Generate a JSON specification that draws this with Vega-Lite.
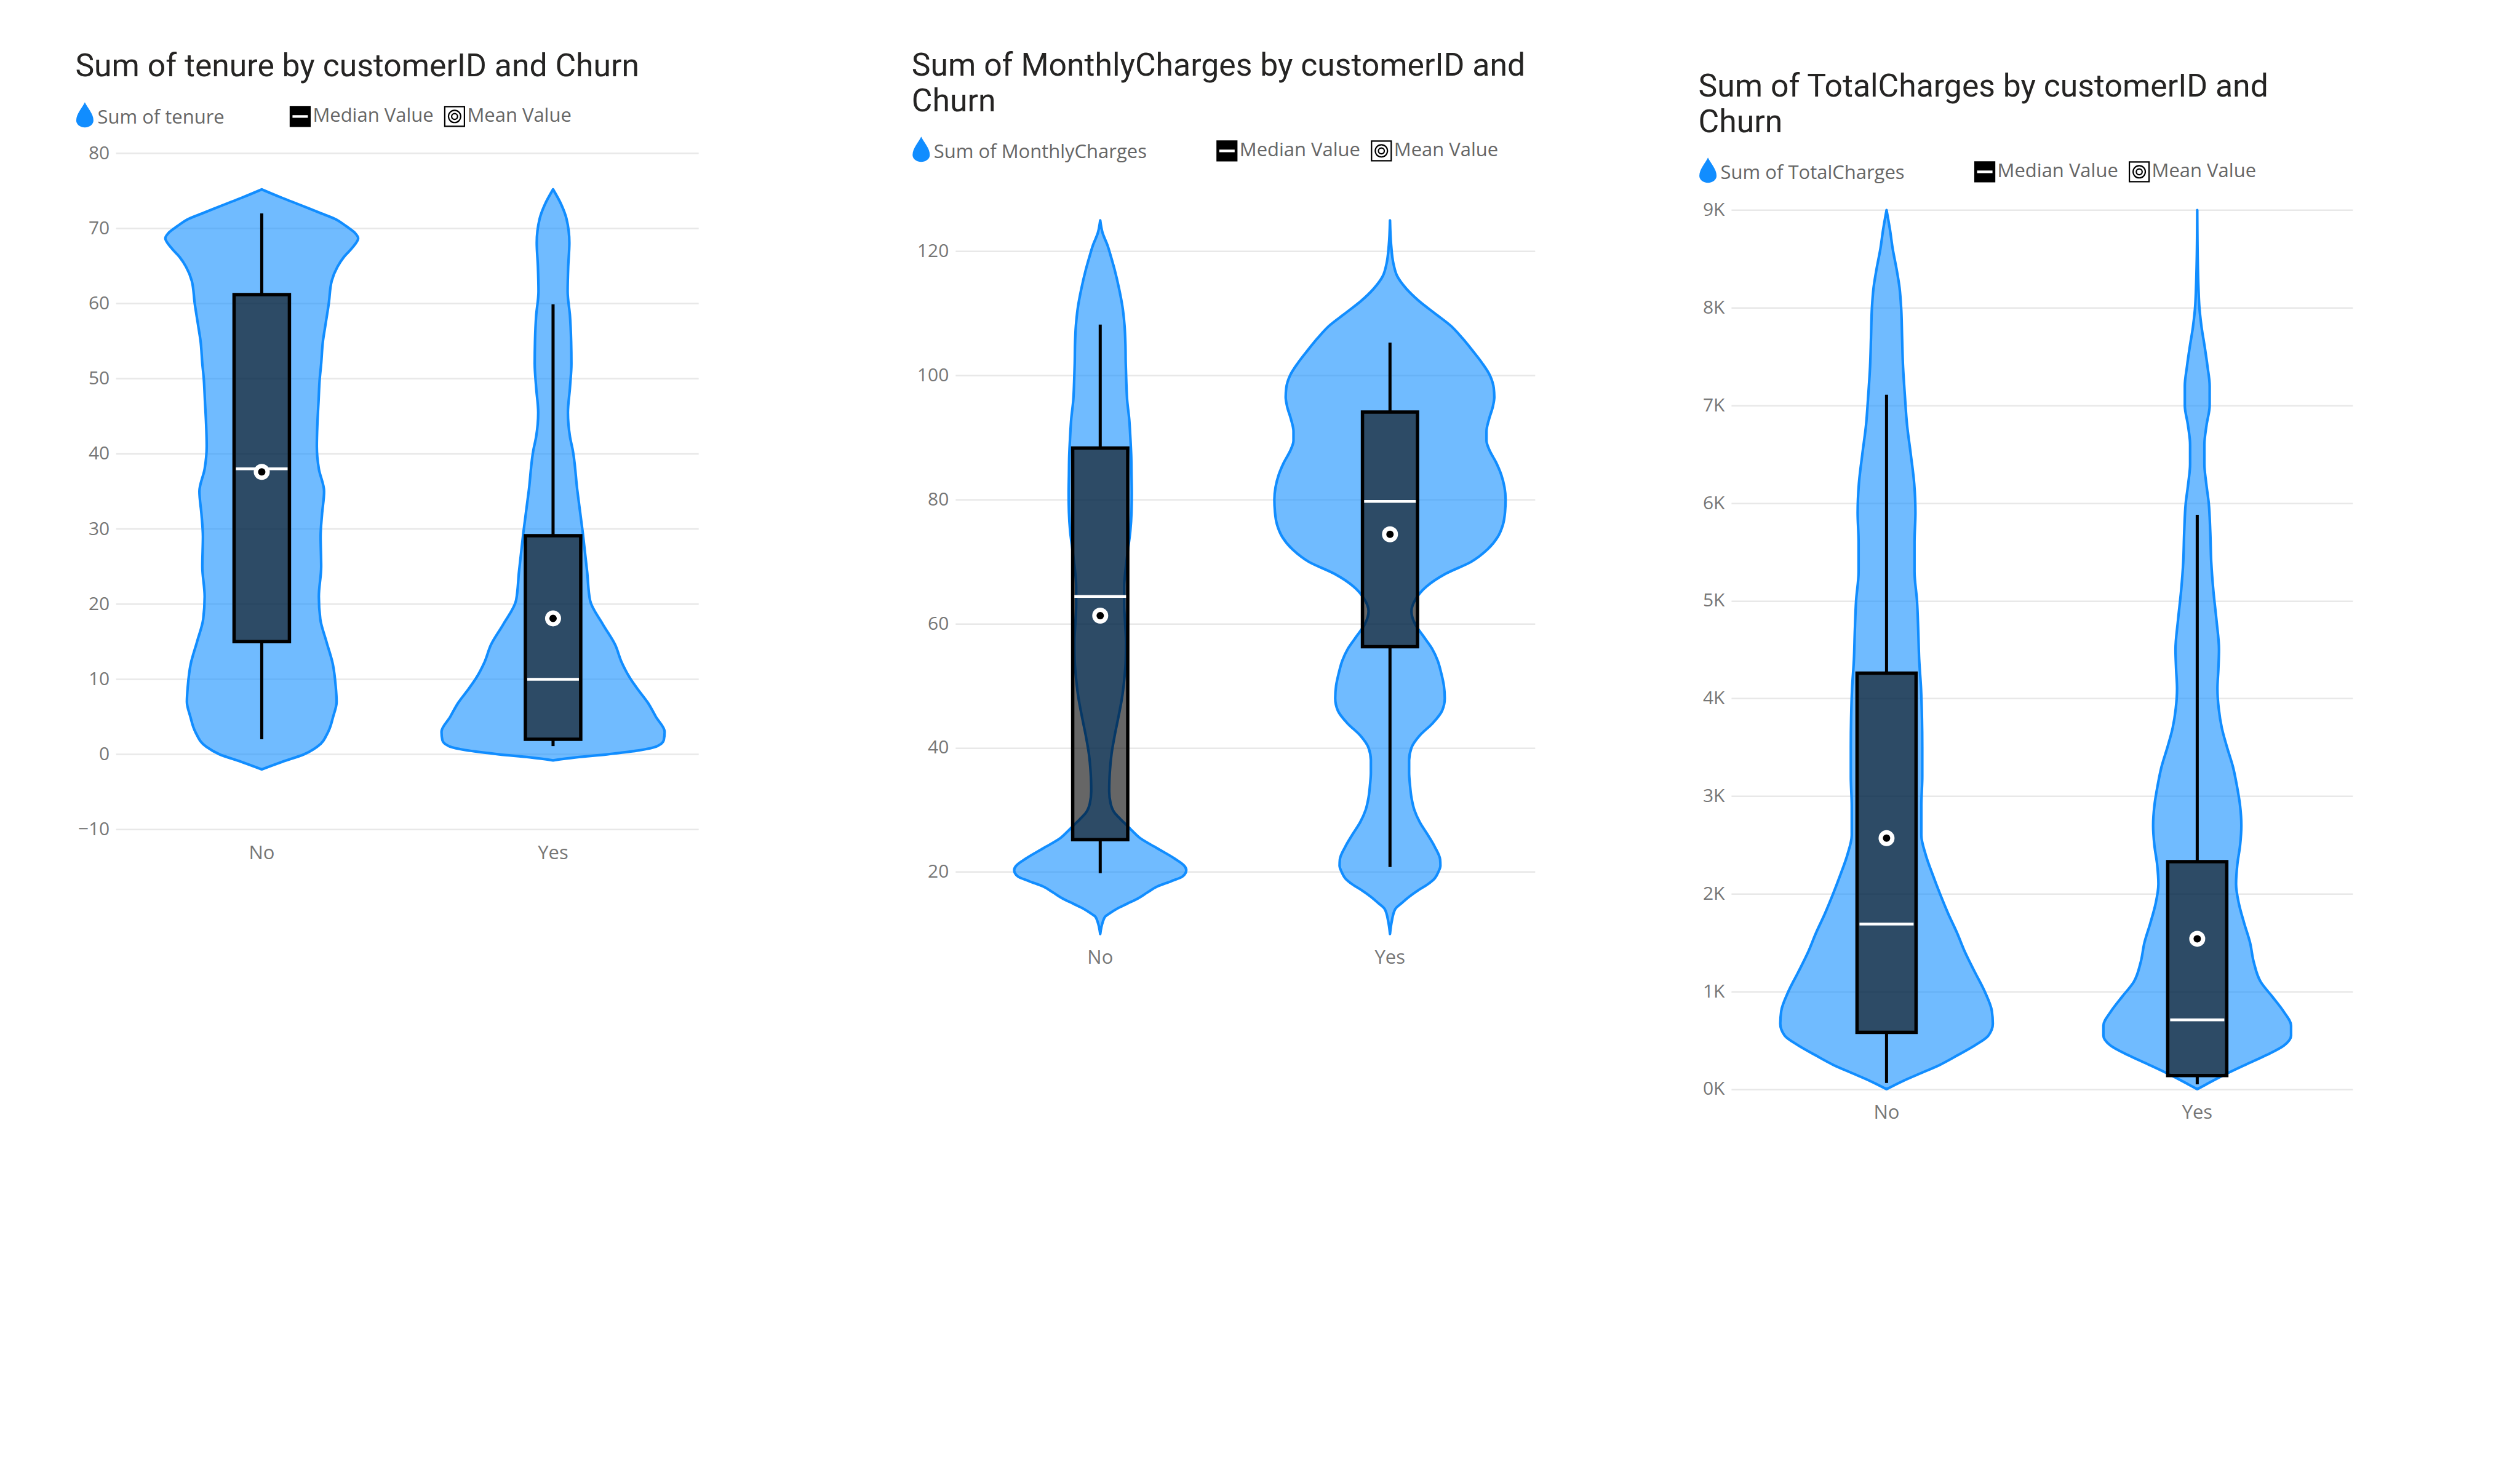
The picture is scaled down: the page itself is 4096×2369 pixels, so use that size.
{
  "$schema": "https://vega.github.io/schema/vega-lite/v6.json",
  "autosize": {"type": "pad"},
  "padding": {"left": 121.7, "top": 82.3, "right": 10, "bottom": 10},
  "background": "white",
  "spacing": 319.1,
  "bounds": "flush",
  "resolve": {"scale": {"color": "independent"}, "legend": {"color": "independent"}},
  "hconcat": [
    {
      "title": {"text": "Sum of tenure by customerID and Churn", "offset": 39.1},
      "width": 1044.6,
      "height": 1099.4,
      "resolve": {"scale": {"x": "independent"}},
      "layer": [
        {
          "data": {"values": [{"g": -10}, {"g": 0}, {"g": 10}, {"g": 20}, {"g": 30}, {"g": 40}, {"g": 50}, {"g": 60}, {"g": 70}, {"g": 80}]},
          "mark": {"type": "rule", "color": "#e8e8e8", "strokeWidth": 2.5},
          "encoding": {
            "y": {"field": "g", "type": "quantitative", "title": null},
            "x": {"datum": 0, "type": "quantitative", "scale": {"domain": [0, 2], "range": [0, 947], "nice": false, "zero": false}, "axis": null},
            "x2": {"datum": 2}
          }
        },
        {
          "data": {"values": [
            {"churn": "No", "v": 75.2, "w": 0}, {"churn": "No", "v": 74.1, "w": 0.068}, {"churn": "No", "v": 73.1, "w": 0.134}, {"churn": "No", "v": 72.1, "w": 0.198}, {"churn": "No", "v": 71.3, "w": 0.25}, {"churn": "No", "v": 70.3, "w": 0.29}, {"churn": "No", "v": 69.4, "w": 0.32}, {"churn": "No", "v": 68.7, "w": 0.331}, {"churn": "No", "v": 67.4, "w": 0.31}, {"churn": "No", "v": 66.2, "w": 0.282}, {"churn": "No", "v": 64.9, "w": 0.26}, {"churn": "No", "v": 63, "w": 0.24}, {"churn": "No", "v": 60, "w": 0.23}, {"churn": "No", "v": 57, "w": 0.218}, {"churn": "No", "v": 55, "w": 0.21}, {"churn": "No", "v": 52, "w": 0.204}, {"churn": "No", "v": 50, "w": 0.199}, {"churn": "No", "v": 47, "w": 0.195}, {"churn": "No", "v": 44, "w": 0.191}, {"churn": "No", "v": 41, "w": 0.189}, {"churn": "No", "v": 38, "w": 0.196}, {"churn": "No", "v": 35, "w": 0.214}, {"churn": "No", "v": 32, "w": 0.207}, {"churn": "No", "v": 29, "w": 0.202}, {"churn": "No", "v": 25, "w": 0.204}, {"churn": "No", "v": 21, "w": 0.196}, {"churn": "No", "v": 18, "w": 0.201}, {"churn": "No", "v": 15, "w": 0.222}, {"churn": "No", "v": 12, "w": 0.244}, {"churn": "No", "v": 9, "w": 0.254}, {"churn": "No", "v": 7, "w": 0.257}, {"churn": "No", "v": 5, "w": 0.245}, {"churn": "No", "v": 3, "w": 0.228}, {"churn": "No", "v": 1, "w": 0.19}, {"churn": "No", "v": 0, "w": 0.145}, {"churn": "No", "v": -1, "w": 0.07}, {"churn": "No", "v": -2, "w": 0},
            {"churn": "Yes", "v": 75.2, "w": 0}, {"churn": "Yes", "v": 73.2, "w": 0.028}, {"churn": "Yes", "v": 71.3, "w": 0.046}, {"churn": "Yes", "v": 68.1, "w": 0.056}, {"churn": "Yes", "v": 64.9, "w": 0.052}, {"churn": "Yes", "v": 61.6, "w": 0.05}, {"churn": "Yes", "v": 58.4, "w": 0.058}, {"churn": "Yes", "v": 55, "w": 0.062}, {"churn": "Yes", "v": 52, "w": 0.063}, {"churn": "Yes", "v": 48.8, "w": 0.058}, {"churn": "Yes", "v": 45.5, "w": 0.051}, {"churn": "Yes", "v": 42.3, "w": 0.058}, {"churn": "Yes", "v": 40.4, "w": 0.068}, {"churn": "Yes", "v": 35.2, "w": 0.083}, {"churn": "Yes", "v": 29.5, "w": 0.102}, {"churn": "Yes", "v": 24.3, "w": 0.117}, {"churn": "Yes", "v": 20.5, "w": 0.127}, {"churn": "Yes", "v": 17.3, "w": 0.171}, {"churn": "Yes", "v": 14.6, "w": 0.213}, {"churn": "Yes", "v": 12.3, "w": 0.235}, {"churn": "Yes", "v": 10.1, "w": 0.265}, {"churn": "Yes", "v": 8.5, "w": 0.294}, {"churn": "Yes", "v": 6.9, "w": 0.325}, {"churn": "Yes", "v": 5, "w": 0.353}, {"churn": "Yes", "v": 3, "w": 0.383}, {"churn": "Yes", "v": 1.9, "w": 0.38}, {"churn": "Yes", "v": 1.1, "w": 0.358}, {"churn": "Yes", "v": 0.5, "w": 0.29}, {"churn": "Yes", "v": 0, "w": 0.185}, {"churn": "Yes", "v": -0.4, "w": 0.08}, {"churn": "Yes", "v": -0.8, "w": 0}
          ]},
          "transform": [
            {"calculate": "datum.churn === 'No' ? 0.5 : 1.5", "as": "c"},
            {"calculate": "datum.c - datum.w", "as": "lo"},
            {"calculate": "datum.c + datum.w", "as": "hi"}
          ],
          "mark": {"type": "area", "orient": "horizontal", "interpolate": "monotone", "opacity": 1, "fillOpacity": 0.6, "stroke": "#118DFF", "strokeWidth": 4.2, "strokeJoin": "round"},
          "encoding": {
            "y": {"field": "v", "type": "quantitative", "scale": {"domain": [-10, 80], "nice": false, "zero": false}, "axis": {"title": null, "grid": false, "values": [-10, 0, 10, 20, 30, 40, 50, 60, 70, 80]}},
            "x": {"field": "lo", "type": "quantitative", "scale": {"domain": [0, 2], "range": [0, 947], "nice": false, "zero": false}, "axis": null},
            "x2": {"field": "hi"},
            "detail": {"field": "churn"},
            "color": {
              "datum": "Sum of tenure\u00a0\u00a0\u00a0\u00a0\u00a0\u00a0\u00a0\u00a0\u00a0\u00a0\u00a0\u200b", "type": "nominal",
              "scale": {"domain": ["Sum of tenure\u00a0\u00a0\u00a0\u00a0\u00a0\u00a0\u00a0\u00a0\u00a0\u00a0\u00a0\u200b", "Median Value", "Mean Value"], "range": ["#118DFF", "#000000", "#FFFFFF"]},
              "legend": {
                "title": null, "legendX": -66.3, "legendY": -75.5,
                "encoding": {"symbols": {
                  "shape": {"value": {"expr": "datum.value === 'Median Value' ? 'M-1,-1H1V1H-1ZM-0.85,-0.2V0.2H0.85V-0.2Z' : (datum.value === 'Mean Value' ? 'M-1,-1H1V1H-1ZM0.62,0A0.62,0.62 0 1 0 -0.62,0A0.62,0.62 0 1 0 0.62,0ZM0.3,0A0.3,0.3 0 1 1 -0.3,0A0.3,0.3 0 1 1 0.3,0Z' : 'M0,-1.6C0.25,-1.05 0.875,-0.45 0.875,0.25A0.875,0.7 0 0 1 -0.875,0.25C-0.875,-0.45 -0.25,-1.05 0,-1.6Z')"}},
                  "fill": {"value": {"expr": "(datum.value === 'Median Value' || datum.value === 'Mean Value') ? '#6a6a6a' : '#118DFF'"}},
                  "stroke": {"value": {"expr": "(datum.value === 'Median Value' || datum.value === 'Mean Value') ? '#000000' : '#118DFF'"}},
                  "strokeWidth": {"value": {"expr": "(datum.value === 'Median Value' || datum.value === 'Mean Value') ? 2.2 : 0"}},
                  "opacity": {"value": 1}, "fillOpacity": {"value": 1}, "strokeOpacity": {"value": 1}
                }}
              }
            }
          }
        },
        {
          "data": {"values": [
            {"churn": "No", "wlo": 2, "q1": 15, "med": 38, "q3": 61.2, "whi": 72, "mean": 37.6},
            {"churn": "Yes", "wlo": 1.1, "q1": 2, "med": 10, "q3": 29.1, "whi": 59.9, "mean": 18.1}
          ]},
          "encoding": {"x": {"field": "churn", "type": "nominal", "scale": {"domain": ["No", "Yes"], "range": [0, 947], "paddingInner": 0.81, "paddingOuter": 0.405}, "axis": {"title": null}}},
          "layer": [
            {"mark": {"type": "bar", "opacity": 1, "fillOpacity": 0.6, "stroke": "#000000", "strokeWidth": 5.5}, "encoding": {"y": {"field": "q1", "type": "quantitative", "title": null}, "y2": {"field": "q3"}, "color": {"datum": "Median Value", "type": "nominal"}}},
            {"mark": {"type": "rule", "color": "#000000", "strokeWidth": 5}, "encoding": {"y": {"field": "wlo", "type": "quantitative", "title": null}, "y2": {"field": "q1"}}},
            {"mark": {"type": "rule", "color": "#000000", "strokeWidth": 5}, "encoding": {"y": {"field": "q3", "type": "quantitative", "title": null}, "y2": {"field": "whi"}}},
            {"mark": {"type": "tick", "color": "#FFFFFF", "opacity": 1, "thickness": 4.5, "size": 84, "orient": "horizontal"}, "encoding": {"y": {"field": "med", "type": "quantitative", "title": null}}},
            {"mark": {"type": "point", "filled": true, "size": 676, "opacity": 1, "strokeWidth": 0}, "encoding": {"y": {"field": "mean", "type": "quantitative", "title": null}, "color": {"datum": "Mean Value", "type": "nominal"}}},
            {"mark": {"type": "point", "filled": true, "size": 144, "color": "#000000", "opacity": 1}, "encoding": {"y": {"field": "mean", "type": "quantitative", "title": null}}}
          ]
        }
      ]
    },
    {
      "title": {"text": ["Sum of MonthlyCharges by customerID and", "Churn"], "offset": 37.7},
      "width": 942,
      "height": 1269.3,
      "resolve": {"scale": {"x": "independent"}},
      "layer": [
        {
          "data": {"values": [
            {"churn": "No", "v": 125, "w": 0}, {"churn": "No", "v": 123, "w": 0.008}, {"churn": "No", "v": 121, "w": 0.025}, {"churn": "No", "v": 119, "w": 0.038}, {"churn": "No", "v": 117, "w": 0.05}, {"churn": "No", "v": 114, "w": 0.065}, {"churn": "No", "v": 111, "w": 0.077}, {"churn": "No", "v": 108, "w": 0.084}, {"churn": "No", "v": 105, "w": 0.087}, {"churn": "No", "v": 102, "w": 0.088}, {"churn": "No", "v": 99, "w": 0.09}, {"churn": "No", "v": 96, "w": 0.093}, {"churn": "No", "v": 93, "w": 0.1}, {"churn": "No", "v": 90, "w": 0.104}, {"churn": "No", "v": 87, "w": 0.107}, {"churn": "No", "v": 84, "w": 0.108}, {"churn": "No", "v": 81, "w": 0.109}, {"churn": "No", "v": 78, "w": 0.108}, {"churn": "No", "v": 75, "w": 0.104}, {"churn": "No", "v": 72, "w": 0.096}, {"churn": "No", "v": 69, "w": 0.088}, {"churn": "No", "v": 66, "w": 0.083}, {"churn": "No", "v": 63, "w": 0.083}, {"churn": "No", "v": 60, "w": 0.086}, {"churn": "No", "v": 57, "w": 0.089}, {"churn": "No", "v": 54, "w": 0.088}, {"churn": "No", "v": 51, "w": 0.083}, {"churn": "No", "v": 48, "w": 0.075}, {"churn": "No", "v": 45, "w": 0.063}, {"churn": "No", "v": 42, "w": 0.05}, {"churn": "No", "v": 39, "w": 0.039}, {"churn": "No", "v": 36, "w": 0.033}, {"churn": "No", "v": 33, "w": 0.031}, {"churn": "No", "v": 31, "w": 0.036}, {"churn": "No", "v": 29.5, "w": 0.05}, {"churn": "No", "v": 28.5, "w": 0.07}, {"churn": "No", "v": 27.5, "w": 0.092}, {"churn": "No", "v": 26.5, "w": 0.113}, {"churn": "No", "v": 25.5, "w": 0.136}, {"churn": "No", "v": 23.85, "w": 0.195}, {"churn": "No", "v": 22.2, "w": 0.255}, {"churn": "No", "v": 21, "w": 0.29}, {"churn": "No", "v": 20.3, "w": 0.297}, {"churn": "No", "v": 19.3, "w": 0.285}, {"churn": "No", "v": 18.5, "w": 0.245}, {"churn": "No", "v": 17.7, "w": 0.199}, {"churn": "No", "v": 16.7, "w": 0.163}, {"churn": "No", "v": 15.7, "w": 0.129}, {"churn": "No", "v": 14.9, "w": 0.094}, {"churn": "No", "v": 14.1, "w": 0.059}, {"churn": "No", "v": 13.4, "w": 0.035}, {"churn": "No", "v": 12.8, "w": 0.017}, {"churn": "No", "v": 11.8, "w": 0.008}, {"churn": "No", "v": 10, "w": 0},
            {"churn": "Yes", "v": 125, "w": 0}, {"churn": "Yes", "v": 121, "w": 0.004}, {"churn": "Yes", "v": 118, "w": 0.012}, {"churn": "Yes", "v": 116, "w": 0.025}, {"churn": "Yes", "v": 114, "w": 0.056}, {"churn": "Yes", "v": 112, "w": 0.1}, {"churn": "Yes", "v": 110, "w": 0.155}, {"churn": "Yes", "v": 108, "w": 0.21}, {"churn": "Yes", "v": 106, "w": 0.25}, {"churn": "Yes", "v": 104, "w": 0.285}, {"churn": "Yes", "v": 102, "w": 0.318}, {"churn": "Yes", "v": 100, "w": 0.345}, {"churn": "Yes", "v": 98, "w": 0.358}, {"churn": "Yes", "v": 96.5, "w": 0.36}, {"churn": "Yes", "v": 95, "w": 0.355}, {"churn": "Yes", "v": 93, "w": 0.342}, {"churn": "Yes", "v": 91, "w": 0.333}, {"churn": "Yes", "v": 89.5, "w": 0.333}, {"churn": "Yes", "v": 88, "w": 0.343}, {"churn": "Yes", "v": 86, "w": 0.366}, {"churn": "Yes", "v": 84, "w": 0.384}, {"churn": "Yes", "v": 82, "w": 0.395}, {"churn": "Yes", "v": 80, "w": 0.399}, {"churn": "Yes", "v": 78, "w": 0.397}, {"churn": "Yes", "v": 76, "w": 0.39}, {"churn": "Yes", "v": 74, "w": 0.372}, {"churn": "Yes", "v": 72, "w": 0.337}, {"churn": "Yes", "v": 70, "w": 0.281}, {"churn": "Yes", "v": 68, "w": 0.19}, {"churn": "Yes", "v": 66, "w": 0.126}, {"churn": "Yes", "v": 64, "w": 0.089}, {"churn": "Yes", "v": 62, "w": 0.074}, {"churn": "Yes", "v": 60, "w": 0.086}, {"churn": "Yes", "v": 58, "w": 0.115}, {"churn": "Yes", "v": 56, "w": 0.145}, {"churn": "Yes", "v": 54, "w": 0.165}, {"churn": "Yes", "v": 52, "w": 0.177}, {"churn": "Yes", "v": 50, "w": 0.186}, {"churn": "Yes", "v": 48, "w": 0.189}, {"churn": "Yes", "v": 46, "w": 0.18}, {"churn": "Yes", "v": 44, "w": 0.148}, {"churn": "Yes", "v": 42, "w": 0.103}, {"churn": "Yes", "v": 40, "w": 0.074}, {"churn": "Yes", "v": 38, "w": 0.066}, {"churn": "Yes", "v": 36, "w": 0.066}, {"churn": "Yes", "v": 34, "w": 0.069}, {"churn": "Yes", "v": 32, "w": 0.074}, {"churn": "Yes", "v": 30, "w": 0.084}, {"churn": "Yes", "v": 28, "w": 0.103}, {"churn": "Yes", "v": 26, "w": 0.13}, {"churn": "Yes", "v": 24, "w": 0.155}, {"churn": "Yes", "v": 22, "w": 0.173}, {"churn": "Yes", "v": 21, "w": 0.174}, {"churn": "Yes", "v": 20, "w": 0.167}, {"churn": "Yes", "v": 19, "w": 0.155}, {"churn": "Yes", "v": 18, "w": 0.13}, {"churn": "Yes", "v": 17, "w": 0.096}, {"churn": "Yes", "v": 16, "w": 0.066}, {"churn": "Yes", "v": 15, "w": 0.041}, {"churn": "Yes", "v": 14, "w": 0.018}, {"churn": "Yes", "v": 12, "w": 0.006}, {"churn": "Yes", "v": 10, "w": 0}
          ]},
          "transform": [
            {"calculate": "datum.churn === 'No' ? 0.5 : 1.5", "as": "c"},
            {"calculate": "datum.c - datum.w", "as": "lo"},
            {"calculate": "datum.c + datum.w", "as": "hi"}
          ],
          "mark": {"type": "area", "orient": "horizontal", "interpolate": "monotone", "opacity": 1, "fillOpacity": 0.6, "stroke": "#118DFF", "strokeWidth": 4.2, "strokeJoin": "round"},
          "encoding": {
            "y": {"field": "v", "type": "quantitative", "scale": {"domain": [10, 135.8], "nice": false, "zero": false}, "axis": {"title": null, "values": [20, 40, 60, 80, 100, 120]}},
            "x": {"field": "lo", "type": "quantitative", "scale": {"domain": [0, 2], "nice": false, "zero": false}, "axis": null},
            "x2": {"field": "hi"},
            "detail": {"field": "churn"},
            "color": {
              "datum": "Sum of MonthlyCharges\u00a0\u00a0\u00a0\u00a0\u00a0\u00a0\u00a0\u00a0\u00a0\u00a0\u00a0\u00a0\u200b", "type": "nominal",
              "scale": {"domain": ["Sum of MonthlyCharges\u00a0\u00a0\u00a0\u00a0\u00a0\u00a0\u00a0\u00a0\u00a0\u00a0\u00a0\u00a0\u200b", "Median Value", "Mean Value"], "range": ["#118DFF", "#000000", "#FFFFFF"]},
              "legend": {
                "title": null, "legendX": -71, "legendY": -19.5,
                "encoding": {"symbols": {
                  "shape": {"value": {"expr": "datum.value === 'Median Value' ? 'M-1,-1H1V1H-1ZM-0.85,-0.2V0.2H0.85V-0.2Z' : (datum.value === 'Mean Value' ? 'M-1,-1H1V1H-1ZM0.62,0A0.62,0.62 0 1 0 -0.62,0A0.62,0.62 0 1 0 0.62,0ZM0.3,0A0.3,0.3 0 1 1 -0.3,0A0.3,0.3 0 1 1 0.3,0Z' : 'M0,-1.6C0.25,-1.05 0.875,-0.45 0.875,0.25A0.875,0.7 0 0 1 -0.875,0.25C-0.875,-0.45 -0.25,-1.05 0,-1.6Z')"}},
                  "fill": {"value": {"expr": "(datum.value === 'Median Value' || datum.value === 'Mean Value') ? '#6a6a6a' : '#118DFF'"}},
                  "stroke": {"value": {"expr": "(datum.value === 'Median Value' || datum.value === 'Mean Value') ? '#000000' : '#118DFF'"}},
                  "strokeWidth": {"value": {"expr": "(datum.value === 'Median Value' || datum.value === 'Mean Value') ? 2.2 : 0"}},
                  "opacity": {"value": 1}, "fillOpacity": {"value": 1}, "strokeOpacity": {"value": 1}
                }}
              }
            }
          }
        },
        {
          "data": {"values": [
            {"churn": "No", "wlo": 19.8, "q1": 25.2, "med": 64.4, "q3": 88.3, "whi": 108.2, "mean": 61.3},
            {"churn": "Yes", "wlo": 20.8, "q1": 56.3, "med": 79.7, "q3": 94.1, "whi": 105.3, "mean": 74.4}
          ]},
          "encoding": {"x": {"field": "churn", "type": "nominal", "scale": {"domain": ["No", "Yes"], "paddingInner": 0.81, "paddingOuter": 0.405}, "axis": {"title": null}}},
          "layer": [
            {"mark": {"type": "bar", "opacity": 1, "fillOpacity": 0.6, "stroke": "#000000", "strokeWidth": 5.5}, "encoding": {"y": {"field": "q1", "type": "quantitative", "title": null}, "y2": {"field": "q3"}, "color": {"datum": "Median Value", "type": "nominal"}}},
            {"mark": {"type": "rule", "color": "#000000", "strokeWidth": 5}, "encoding": {"y": {"field": "wlo", "type": "quantitative", "title": null}, "y2": {"field": "q1"}}},
            {"mark": {"type": "rule", "color": "#000000", "strokeWidth": 5}, "encoding": {"y": {"field": "q3", "type": "quantitative", "title": null}, "y2": {"field": "whi"}}},
            {"mark": {"type": "tick", "color": "#FFFFFF", "opacity": 1, "thickness": 4.5, "size": 84, "orient": "horizontal"}, "encoding": {"y": {"field": "med", "type": "quantitative", "title": null}}},
            {"mark": {"type": "point", "filled": true, "size": 676, "opacity": 1, "strokeWidth": 0}, "encoding": {"y": {"field": "mean", "type": "quantitative", "title": null}, "color": {"datum": "Mean Value", "type": "nominal"}}},
            {"mark": {"type": "point", "filled": true, "size": 144, "color": "#000000", "opacity": 1}, "encoding": {"y": {"field": "mean", "type": "quantitative", "title": null}}}
          ]
        }
      ]
    },
    {
      "title": {"text": ["Sum of TotalCharges by customerID and", "Churn"], "offset": 23.2},
      "width": 1010,
      "height": 1521.7,
      "resolve": {"scale": {"x": "independent"}},
      "layer": [
        {
          "data": {"values": [
            {"churn": "No", "v": 9000, "w": 0}, {"churn": "No", "v": 8800, "w": 0.011}, {"churn": "No", "v": 8600, "w": 0.02}, {"churn": "No", "v": 8400, "w": 0.032}, {"churn": "No", "v": 8200, "w": 0.042}, {"churn": "No", "v": 8000, "w": 0.047}, {"churn": "No", "v": 7700, "w": 0.05}, {"churn": "No", "v": 7400, "w": 0.053}, {"churn": "No", "v": 7100, "w": 0.059}, {"churn": "No", "v": 6800, "w": 0.066}, {"churn": "No", "v": 6500, "w": 0.078}, {"churn": "No", "v": 6200, "w": 0.089}, {"churn": "No", "v": 5900, "w": 0.093}, {"churn": "No", "v": 5600, "w": 0.09}, {"churn": "No", "v": 5300, "w": 0.09}, {"churn": "No", "v": 5000, "w": 0.098}, {"churn": "No", "v": 4700, "w": 0.102}, {"churn": "No", "v": 4400, "w": 0.105}, {"churn": "No", "v": 4100, "w": 0.111}, {"churn": "No", "v": 3800, "w": 0.114}, {"churn": "No", "v": 3500, "w": 0.115}, {"churn": "No", "v": 3200, "w": 0.115}, {"churn": "No", "v": 2900, "w": 0.112}, {"churn": "No", "v": 2600, "w": 0.112}, {"churn": "No", "v": 2400, "w": 0.126}, {"churn": "No", "v": 2200, "w": 0.148}, {"churn": "No", "v": 2000, "w": 0.172}, {"churn": "No", "v": 1800, "w": 0.198}, {"churn": "No", "v": 1600, "w": 0.227}, {"churn": "No", "v": 1400, "w": 0.253}, {"churn": "No", "v": 1200, "w": 0.284}, {"churn": "No", "v": 1000, "w": 0.316}, {"churn": "No", "v": 800, "w": 0.339}, {"churn": "No", "v": 670, "w": 0.342}, {"churn": "No", "v": 550, "w": 0.328}, {"churn": "No", "v": 450, "w": 0.285}, {"churn": "No", "v": 350, "w": 0.23}, {"churn": "No", "v": 250, "w": 0.172}, {"churn": "No", "v": 150, "w": 0.1}, {"churn": "No", "v": 80, "w": 0.05}, {"churn": "No", "v": 0, "w": 0},
            {"churn": "Yes", "v": 9000, "w": 0}, {"churn": "Yes", "v": 8500, "w": 0.0015}, {"churn": "Yes", "v": 8200, "w": 0.004}, {"churn": "Yes", "v": 8000, "w": 0.007}, {"churn": "Yes", "v": 7800, "w": 0.014}, {"churn": "Yes", "v": 7600, "w": 0.024}, {"churn": "Yes", "v": 7400, "w": 0.033}, {"churn": "Yes", "v": 7200, "w": 0.04}, {"churn": "Yes", "v": 7000, "w": 0.04}, {"churn": "Yes", "v": 6800, "w": 0.03}, {"churn": "Yes", "v": 6600, "w": 0.023}, {"churn": "Yes", "v": 6400, "w": 0.023}, {"churn": "Yes", "v": 6200, "w": 0.029}, {"churn": "Yes", "v": 6000, "w": 0.037}, {"churn": "Yes", "v": 5700, "w": 0.042}, {"churn": "Yes", "v": 5400, "w": 0.045}, {"churn": "Yes", "v": 5100, "w": 0.052}, {"churn": "Yes", "v": 4800, "w": 0.062}, {"churn": "Yes", "v": 4500, "w": 0.07}, {"churn": "Yes", "v": 4300, "w": 0.068}, {"churn": "Yes", "v": 4100, "w": 0.065}, {"churn": "Yes", "v": 3900, "w": 0.069}, {"churn": "Yes", "v": 3700, "w": 0.079}, {"churn": "Yes", "v": 3500, "w": 0.096}, {"churn": "Yes", "v": 3300, "w": 0.115}, {"churn": "Yes", "v": 3100, "w": 0.128}, {"churn": "Yes", "v": 2900, "w": 0.138}, {"churn": "Yes", "v": 2700, "w": 0.142}, {"churn": "Yes", "v": 2500, "w": 0.138}, {"churn": "Yes", "v": 2300, "w": 0.129}, {"churn": "Yes", "v": 2100, "w": 0.125}, {"churn": "Yes", "v": 1900, "w": 0.134}, {"churn": "Yes", "v": 1700, "w": 0.151}, {"churn": "Yes", "v": 1500, "w": 0.17}, {"churn": "Yes", "v": 1300, "w": 0.182}, {"churn": "Yes", "v": 1100, "w": 0.204}, {"churn": "Yes", "v": 950, "w": 0.241}, {"churn": "Yes", "v": 800, "w": 0.277}, {"churn": "Yes", "v": 650, "w": 0.302}, {"churn": "Yes", "v": 550, "w": 0.302}, {"churn": "Yes", "v": 450, "w": 0.28}, {"churn": "Yes", "v": 350, "w": 0.223}, {"churn": "Yes", "v": 250, "w": 0.155}, {"churn": "Yes", "v": 150, "w": 0.089}, {"churn": "Yes", "v": 50, "w": 0.029}, {"churn": "Yes", "v": 0, "w": 0}
          ]},
          "transform": [
            {"calculate": "datum.churn === 'No' ? 0.5 : 1.5", "as": "c"},
            {"calculate": "datum.c - datum.w", "as": "lo"},
            {"calculate": "datum.c + datum.w", "as": "hi"}
          ],
          "mark": {"type": "area", "orient": "horizontal", "interpolate": "monotone", "opacity": 1, "fillOpacity": 0.6, "stroke": "#118DFF", "strokeWidth": 4.2, "strokeJoin": "round"},
          "encoding": {
            "y": {"field": "v", "type": "quantitative", "scale": {"domain": [0, 9581], "nice": false, "zero": false}, "axis": {"title": null, "values": [0, 1000, 2000, 3000, 4000, 5000, 6000, 7000, 8000, 9000], "labelExpr": "(datum.value / 1000) + 'K'"}},
            "x": {"field": "lo", "type": "quantitative", "scale": {"domain": [0, 2], "nice": false, "zero": false}, "axis": null},
            "x2": {"field": "hi"},
            "detail": {"field": "churn"},
            "color": {
              "datum": "Sum of TotalCharges\u00a0\u00a0\u00a0\u00a0\u00a0\u00a0\u00a0\u00a0\u00a0\u00a0\u00a0\u00a0\u200b", "type": "nominal",
              "scale": {"domain": ["Sum of TotalCharges\u00a0\u00a0\u00a0\u00a0\u00a0\u00a0\u00a0\u00a0\u00a0\u00a0\u00a0\u00a0\u200b", "Median Value", "Mean Value"], "range": ["#118DFF", "#000000", "#FFFFFF"]},
              "legend": {
                "title": null, "legendX": -53.3, "legendY": 14.5,
                "encoding": {"symbols": {
                  "shape": {"value": {"expr": "datum.value === 'Median Value' ? 'M-1,-1H1V1H-1ZM-0.85,-0.2V0.2H0.85V-0.2Z' : (datum.value === 'Mean Value' ? 'M-1,-1H1V1H-1ZM0.62,0A0.62,0.62 0 1 0 -0.62,0A0.62,0.62 0 1 0 0.62,0ZM0.3,0A0.3,0.3 0 1 1 -0.3,0A0.3,0.3 0 1 1 0.3,0Z' : 'M0,-1.6C0.25,-1.05 0.875,-0.45 0.875,0.25A0.875,0.7 0 0 1 -0.875,0.25C-0.875,-0.45 -0.25,-1.05 0,-1.6Z')"}},
                  "fill": {"value": {"expr": "(datum.value === 'Median Value' || datum.value === 'Mean Value') ? '#6a6a6a' : '#118DFF'"}},
                  "stroke": {"value": {"expr": "(datum.value === 'Median Value' || datum.value === 'Mean Value') ? '#000000' : '#118DFF'"}},
                  "strokeWidth": {"value": {"expr": "(datum.value === 'Median Value' || datum.value === 'Mean Value') ? 2.2 : 0"}},
                  "opacity": {"value": 1}, "fillOpacity": {"value": 1}, "strokeOpacity": {"value": 1}
                }}
              }
            }
          }
        },
        {
          "data": {"values": [
            {"churn": "No", "wlo": 64, "q1": 583, "med": 1690, "q3": 4260, "whi": 7110, "mean": 2570},
            {"churn": "Yes", "wlo": 50, "q1": 140, "med": 710, "q3": 2330, "whi": 5880, "mean": 1540}
          ]},
          "encoding": {"x": {"field": "churn", "type": "nominal", "scale": {"domain": ["No", "Yes"], "paddingInner": 0.81, "paddingOuter": 0.405}, "axis": {"title": null}}},
          "layer": [
            {"mark": {"type": "bar", "opacity": 1, "fillOpacity": 0.6, "stroke": "#000000", "strokeWidth": 5.5}, "encoding": {"y": {"field": "q1", "type": "quantitative", "title": null}, "y2": {"field": "q3"}, "color": {"datum": "Median Value", "type": "nominal"}}},
            {"mark": {"type": "rule", "color": "#000000", "strokeWidth": 5}, "encoding": {"y": {"field": "wlo", "type": "quantitative", "title": null}, "y2": {"field": "q1"}}},
            {"mark": {"type": "rule", "color": "#000000", "strokeWidth": 5}, "encoding": {"y": {"field": "q3", "type": "quantitative", "title": null}, "y2": {"field": "whi"}}},
            {"mark": {"type": "tick", "color": "#FFFFFF", "opacity": 1, "thickness": 4.5, "size": 88, "orient": "horizontal"}, "encoding": {"y": {"field": "med", "type": "quantitative", "title": null}}},
            {"mark": {"type": "point", "filled": true, "size": 676, "opacity": 1, "strokeWidth": 0}, "encoding": {"y": {"field": "mean", "type": "quantitative", "title": null}, "color": {"datum": "Mean Value", "type": "nominal"}}},
            {"mark": {"type": "point", "filled": true, "size": 144, "color": "#000000", "opacity": 1}, "encoding": {"y": {"field": "mean", "type": "quantitative", "title": null}}}
          ]
        }
      ]
    }
  ],
  "config": {
    "view": {"stroke": null},
    "font": "Open Sans",
    "axis": {"labelFont": "Open Sans", "labelColor": "#767676", "ticks": false, "domain": false},
    "axisY": {"labelFontSize": 30, "labelPadding": 11, "gridColor": "#e8e8e8", "gridWidth": 2.5, "labelOverlap": false},
    "axisX": {"labelFontSize": 31, "labelPadding": 24, "labelAngle": 0, "grid": false},
    "legend": {"orient": "none", "direction": "horizontal", "symbolSize": 1024, "labelFont": "Open Sans", "labelFontSize": 31, "labelColor": "#666666", "labelOffset": 5, "columnPadding": 13, "labelLimit": 1000, "padding": 0},
    "title": {"font": "Roboto", "fontSize": 51.7, "fontWeight": "normal", "color": "#252423", "anchor": "start", "frame": "bounds", "baseline": "alphabetic", "lineHeight": 58}
  }
}
